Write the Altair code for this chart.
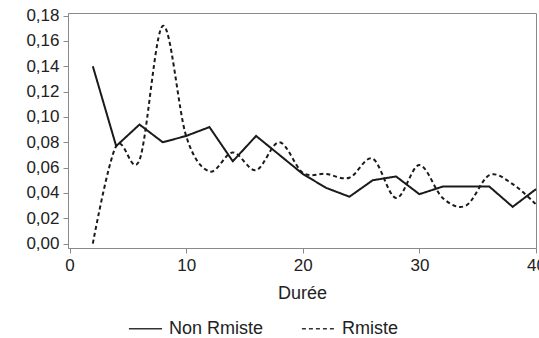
import altair as alt
import pandas as pd

duree = list(range(2, 42, 2))
non_rmiste = [0.140, 0.077, 0.094, 0.080, 0.085, 0.092, 0.065, 0.085, 0.070, 0.055,
              0.044, 0.037, 0.050, 0.053, 0.039, 0.045, 0.045, 0.045, 0.029, 0.043]
rmiste = [0.000, 0.077, 0.066, 0.172, 0.085, 0.057, 0.072, 0.058, 0.080, 0.056,
          0.055, 0.052, 0.067, 0.036, 0.062, 0.036, 0.030, 0.054, 0.047, 0.031]
series = ["Non Rmiste", "Rmiste"]
x_ticks = [0, 10, 20, 30, 40]
y_ticks = [0.0, 0.02, 0.04, 0.06, 0.08, 0.10, 0.12, 0.14, 0.16, 0.18]

df = pd.DataFrame({
    "Durée": duree + duree,
    "valeur": non_rmiste + rmiste,
    "groupe": [series[0]] * len(duree) + [series[1]] * len(duree),
})

FONT = "Liberation Sans"
TXT = "#222222"
GRAY = "#8a8a8a"

x = alt.X("Durée:Q",
          scale=alt.Scale(domain=[-0.13, 40], nice=False, zero=False),
          axis=alt.Axis(values=x_ticks, title="Durée", grid=False, labelPadding=4,
                        titlePadding=11, labelFlush=False))
y = alt.Y("valeur:Q",
          scale=alt.Scale(domain=[-0.0035, 0.1821], nice=False, zero=False),
          axis=alt.Axis(values=y_ticks, title=None, grid=False, labelPadding=4,
                        labelExpr="replace(format(datum.value, '.2f'), '.', ',')"))
dash = alt.StrokeDash("groupe:N",
                      scale=alt.Scale(domain=series, range=[[1, 0], [4, 3]]),
                      legend=alt.Legend(title=None, orient="none", direction="horizontal",
                                        legendX=60, legendY=298, symbolType="stroke",
                                        symbolSize=1100, symbolStrokeWidth=1.5,
                                        symbolStrokeColor="#333333", labelOffset=6,
                                        columnPadding=34, padding=0,
                                        labelFont=FONT, labelFontSize=18, labelColor=TXT))

base = alt.Chart(df).encode(x=x, y=y, strokeDash=dash)
solid = base.transform_filter(alt.datum.groupe == series[0]).mark_line(
    color="#1a1a1a", strokeWidth=2)
dashed = base.transform_filter(alt.datum.groupe == series[1]).mark_line(
    color="#1a1a1a", strokeWidth=2, interpolate="cardinal")

chart = alt.layer(solid, dashed).properties(
    width=468, height=235,
    autosize=alt.AutoSizeParams(type="none"),
    padding={"left": 68, "top": 13, "right": 3, "bottom": 90},
    background="white",
).configure_view(stroke=GRAY, strokeWidth=1).configure_axis(
    domainColor=GRAY, tickColor=GRAY, tickSize=5,
    labelFont=FONT, labelFontSize=17, labelColor=TXT,
    titleFont=FONT, titleFontSize=18, titleColor=TXT, titleFontWeight="normal",
)

chart.save("out.html", embed_options={"renderer": "svg", "actions": False})
